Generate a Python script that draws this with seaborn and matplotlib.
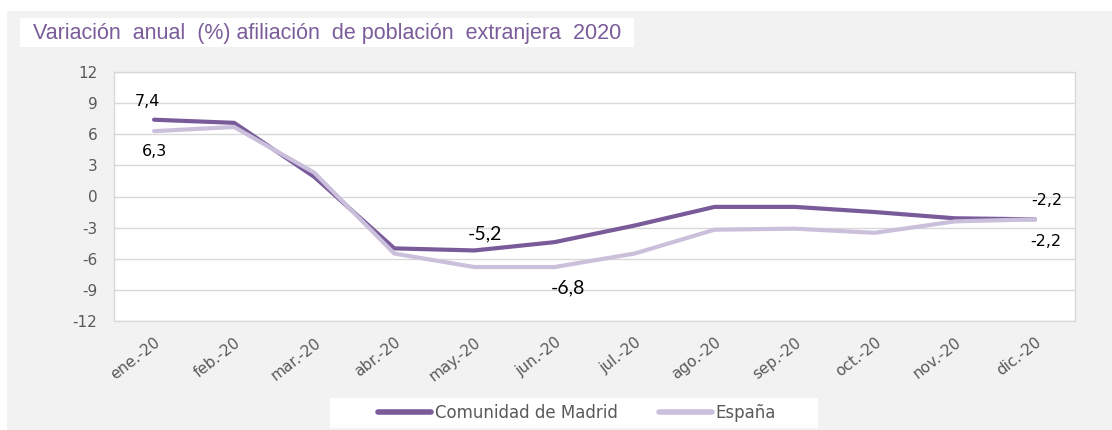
import pandas as pd
import matplotlib.pyplot as plt
import seaborn as sns
from matplotlib.patches import Rectangle

# === 1. Data ===
meses = ['ene.-20', 'feb.-20', 'mar.-20', 'abr.-20', 'may.-20', 'jun.-20',
         'jul.-20', 'ago.-20', 'sep.-20', 'oct.-20', 'nov.-20', 'dic.-20']
madrid = [7.4, 7.1, 1.9, -5.0, -5.2, -4.4, -2.8, -1.0, -1.0, -1.5, -2.1, -2.2]
espana = [6.3, 6.7, 2.3, -5.5, -6.8, -6.8, -5.5, -3.2, -3.1, -3.5, -2.4, -2.2]
series = ['Comunidad de Madrid', 'España']
y_ticks = [12, 9, 6, 3, 0, -3, -6, -9, -12]

df = pd.DataFrame({
    'mes': meses * 2,
    'valor': madrid + espana,
    'serie': [series[0]] * len(meses) + [series[1]] * len(meses),
})
df['x'] = df.groupby('serie').cumcount()

colors = {series[0]: '#795b9a', series[1]: '#cbc0dc'}

# === 2. Figure ===
sns.set_style('white')
plt.rcParams['font.family'] = ['DejaVu Sans']

W, H = 1112, 430
fig = plt.figure(figsize=(W / 100, H / 100), dpi=100, facecolor='white')
# grey chart area background
fig.patches.append(Rectangle((7 / W, 0), 1, 1 - 11 / H, transform=fig.transFigure,
                             facecolor='#f2f2f2', edgecolor='none', zorder=-10))
# white legend box
fig.patches.append(Rectangle((330 / W, 1 - 428 / H), 488 / W, 30 / H, transform=fig.transFigure,
                             facecolor='white', edgecolor='none', zorder=-5))
ax = fig.add_axes([114 / W, 1 - 321 / H, 961 / W, 249 / H])
ax.set_zorder(1)
ax.set_facecolor('white')

sns.lineplot(data=df, x='x', y='valor', hue='serie', hue_order=series,
             palette=colors, linewidth=3.0, ax=ax, legend=False,
             solid_capstyle='round')

ax.set_xlim(-0.5, len(meses) - 0.5)
ax.set_ylim(-12, 12)
ax.set_yticks(y_ticks)
ax.set_yticklabels([str(v) for v in y_ticks])
ax.set_xticks(range(len(meses)))
ax.set_xticklabels(meses, rotation=38, ha='right', rotation_mode='anchor')
ax.tick_params(axis='y', length=0, pad=12, labelsize=11, labelcolor='#595959')
ax.tick_params(axis='x', length=0, pad=10, labelsize=11, labelcolor='#595959')
ax.set_xlabel('')
ax.set_ylabel('')
ax.grid(axis='y', color='#d9d9d9', linewidth=1)
ax.set_axisbelow(True)
for s in ax.spines.values():
    s.set_color('#d9d9d9')
    s.set_linewidth(1)

# === 3. Data labels ===
def label(i, vals, dx, dy, size=11.5, family='DejaVu Sans'):
    txt = f'{vals[i]:.1f}'.replace('.', ',')
    ax.annotate(txt, (i, vals[i]), xytext=(dx, dy), textcoords='offset points',
                ha='center', va='center', fontsize=size, color='black', family=family)

label(0, madrid, -4.5, 13)
label(0, espana, 0, -14.5)
label(4, madrid, 7.5, 12.2, size=14, family='Lato')
label(5, espana, 9.5, -14.7, size=14, family='Lato')
label(11, madrid, 8.3, 13.7)
label(11, espana, 8, -15.8)

# === 4. Title box ===
fig.patches.append(Rectangle((20 / W, 1 - 47 / H), 614 / W, 29 / H, transform=fig.transFigure,
                             facecolor='white', edgecolor='none', zorder=-5))
fig.text(33 / W, 1 - 33 / H, 'Variación  anual  (%) afiliación  de población  extranjera  2020',
         fontsize=15.5, color='#7a5c9a', ha='left', va='center', family='Liberation Sans')

# === 5. Legend ===
handles = [plt.Line2D([], [], color=colors[s], linewidth=4, solid_capstyle='round') for s in series]
leg = fig.legend(handles, series, loc='center', bbox_to_anchor=(577 / W, 1 - 413 / H),
                 ncol=2, frameon=False, fontsize=12, handlelength=3.2, handletextpad=0.2,
                 columnspacing=2.5, borderpad=0.2)
for t in leg.get_texts():
    t.set_color('#595959')

fig.savefig('out.png', dpi=100, facecolor=fig.get_facecolor())
